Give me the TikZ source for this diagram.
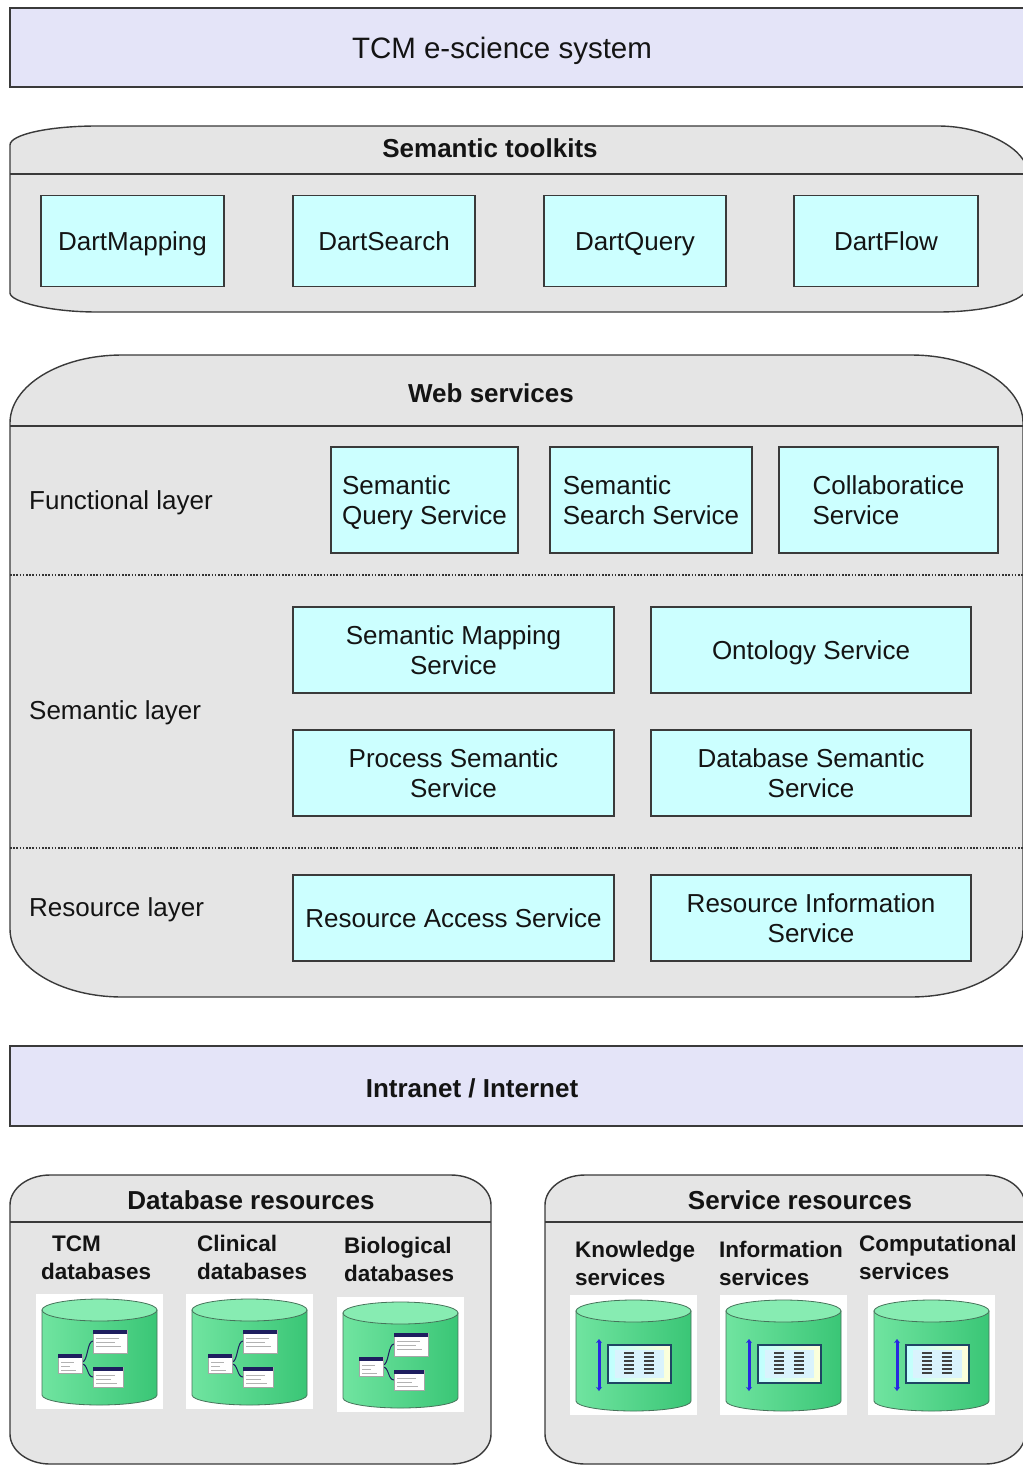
\documentclass[tikz,border=0pt]{standalone}
\usepackage{fontspec}
\setmainfont{Liberation Sans}
\usetikzlibrary{arrows.meta}
\definecolor{lav}{RGB}{228,228,248}
\definecolor{panelgray}{RGB}{229,229,229}
\definecolor{cyanbox}{RGB}{204,255,255}
\definecolor{edgec}{RGB}{58,58,58}
\definecolor{txt}{RGB}{20,20,20}
\definecolor{cylA}{RGB}{112,228,160}
\definecolor{cylB}{RGB}{58,198,118}
\definecolor{cylTop}{RGB}{135,236,178}
\definecolor{cylEdge}{RGB}{70,115,90}
\definecolor{navy}{RGB}{30,30,95}
\definecolor{arrowblue}{RGB}{40,40,225}
\definecolor{winedge}{RGB}{30,70,100}
\tikzset{
  cylinderbody/.pic={
    \fill[white] (0,0) rectangle (127,#1);
    \path[draw=cylEdge, line width=0.8pt, left color=cylA, right color=cylB]
      (6,16) -- (6,#1-14) .. controls (6,#1-8.5) and (31.8,#1-4) .. (63.5,#1-4)
      .. controls (95.2,#1-4) and (121,#1-8.5) .. (121,#1-14) -- (121,16) -- cycle;
    \path[draw=cylEdge, line width=0.8pt, fill=cylTop] (63.5,16) ellipse [x radius=57.5pt, y radius=11pt];
  },
  dbicon/.pic={
    \pic {cylinderbody=115};
    \draw[navy, line width=1pt] (46,68) .. controls (52,68) and (51,47) .. (57,47);
    \draw[navy, line width=1pt] (46,70) .. controls (52,70) and (51,83) .. (57,83);
    \foreach \xa/\ya/\xb/\yb in {57/36/91/59, 22/60/46/79, 57/73/87/93}{
      \fill[white, draw=gray!70, line width=0.5pt] (\xa,\ya) rectangle (\xb,\yb);
      \fill[navy] (\xa,\ya) rectangle (\xb,\ya+4);
      \draw[gray!60, line width=0.8pt] (\xa+3,\ya+8) -- (\xb-8,\ya+8);
      \draw[gray!60, line width=0.8pt] (\xa+3,\ya+12) -- (\xb-12,\ya+12);
      \draw[gray!60, line width=0.8pt] (\xa+3,\ya+16) -- (\xb-6,\ya+16);
    }
  },
  svcicon/.pic={
    \pic {cylinderbody=120};
    \draw[arrowblue, line width=3pt, {Stealth[length=4pt,width=6pt]}-{Stealth[length=4pt,width=6pt]}] (29,44) -- (29,96);
    \path[draw=winedge, line width=2.5pt, left color=cyan!25, right color=yellow!15] (38,50) rectangle (101,88);
    \fill[white!85!cyan] (45,55) rectangle (94,83);
    \foreach \yy in {58,62,66,70,74,78}{
      \draw[black!75, line width=1.8pt] (54,\yy) -- (64,\yy);
      \draw[black!75, line width=1.8pt] (74,\yy) -- (84,\yy);
    }
  }
}
\begin{document}
\begin{tikzpicture}[x=1pt,y=-1pt,
  panel/.style={draw=edgec, line width=1.4pt, fill=panelgray},
  band/.style={draw=edgec, line width=1.4pt, fill=lav},
  sep/.style={draw=edgec, line width=1.4pt},
  dotsep/.style={draw=edgec!90!black, line width=1.1pt, dash pattern=on 1.6pt off 1.6pt},
  struts/.style={execute at begin node={\vphantom{A}}, text depth=0pt},
  box/.style={draw=edgec, line width=1.4pt, fill=cyanbox, inner sep=0pt, align=center,
    font=\fontsize{26}{30}\selectfont, text=txt, struts},
  lbox/.style={box, align=left},
  head/.style={font=\bfseries\fontsize{26}{30}\selectfont, text=txt, inner sep=0pt, struts},
  layer/.style={font=\fontsize{26}{30}\selectfont, text=txt, inner sep=0pt, anchor=west, struts},
  sub/.style={font=\bfseries\fontsize{22.5}{28}\selectfont, text=txt, inner sep=0pt, anchor=west, align=left, struts}
]
\useasboundingbox (0,0) rectangle (1022,1466);

% top band
\path[band] (10,8) rectangle (1035,87);
\node[text=txt, inner sep=0pt, font=\fontsize{29.5}{34}\selectfont, struts] (title) at (502,48) {TCM e-science system};

% Semantic toolkits panel
\path[panel] (97,126) -- (938,126) .. controls (987,126) and (1027,151) .. (1027,171)
  -- (1027,287) .. controls (1027,301) and (987,312) .. (938,312)
  -- (97,312) .. controls (49,312) and (10,301.5) .. (10,293)
  -- (10,145) .. controls (10,134.5) and (49,126) .. (97,126) -- cycle;
\draw[sep] (10,174) -- (1027,174);
\node[head] (stk) at (490,148) {Semantic toolkits};
\node[box, minimum width=183pt, minimum height=91pt] (dm) at (132.5,241) {DartMapping};
\node[box, minimum width=182pt, minimum height=91pt] (ds) at (384,241) {DartSearch};
\node[box, minimum width=182pt, minimum height=91pt] (dq) at (635,241) {DartQuery};
\node[box, minimum width=184pt, minimum height=91pt] (df) at (886,241) {DartFlow};

% Web services panel
\path[panel] (122,355) -- (911,355) .. controls (973,355) and (1023,385.5) .. (1023,423)
  -- (1023,929) .. controls (1023,966.5) and (973,997) .. (911,997)
  -- (122,997) .. controls (60,997) and (10,966.5) .. (10,929)
  -- (10,423) .. controls (10,385.5) and (60,355) .. (122,355) -- cycle;
\draw[sep] (10,426) -- (1023,426);
\draw[dotsep] (10,575) -- (1023,575);
\draw[dotsep] (10,848) -- (1023,848);
\node[head] (ws) at (491,393) {Web services};
\node[layer] (fl) at (29,500) {Functional layer};
\node[layer] (sl) at (29,710) {Semantic layer};
\node[layer] (rl) at (29,907) {Resource layer};

\node[lbox, minimum width=187pt, minimum height=106pt] (sqs) at (424.5,500) {Semantic\\Query Service};
\node[lbox, minimum width=202pt, minimum height=106pt] (sss) at (651,500) {Semantic\\Search Service};
\node[lbox, minimum width=219pt, minimum height=106pt] (cls) at (888.5,500) {Collaboratice\\Service};
\node[box, minimum width=321pt, minimum height=86pt] (sms) at (453.5,650) {Semantic Mapping\\Service};
\node[box, minimum width=320pt, minimum height=86pt] (ons) at (811,650) {Ontology Service};
\node[box, minimum width=321pt, minimum height=86pt] (pss) at (453.5,773) {Process Semantic\\Service};
\node[box, minimum width=320pt, minimum height=86pt] (dss) at (811,773) {Database Semantic\\Service};
\node[box, minimum width=321pt, minimum height=86pt] (ras) at (453.5,918) {Resource Access Service};
\node[box, minimum width=320pt, minimum height=86pt] (ris) at (811,918) {Resource Information\\Service};

% Intranet band
\path[band] (10,1046) rectangle (1035,1126);
\node[head] (net) at (472,1088) {Intranet / Internet};

% Database resources panel
\path[panel] (50,1175) -- (451,1175) .. controls (473,1175) and (491,1188.5) .. (491,1205)
  -- (491,1434) .. controls (491,1450.5) and (473,1464) .. (451,1464)
  -- (50,1464) .. controls (28,1464) and (10,1450.5) .. (10,1434)
  -- (10,1205) .. controls (10,1188.5) and (28,1175) .. (50,1175) -- cycle;
\draw[sep] (10,1222) -- (491,1222);
\node[head] (dbr) at (251,1200) {Database resources};

% Service resources panel
\path[panel] (585,1175) -- (985,1175) .. controls (1007,1175) and (1025,1188.5) .. (1025,1205)
  -- (1025,1434) .. controls (1025,1450.5) and (1007,1464) .. (985,1464)
  -- (585,1464) .. controls (563,1464) and (545,1450.5) .. (545,1434)
  -- (545,1205) .. controls (545,1188.5) and (563,1175) .. (585,1175) -- cycle;
\draw[sep] (545,1222) -- (1025,1222);
\node[head] (svr) at (800,1200) {Service resources};

\node[sub] (tcmdb) at (41,1258) {\hspace*{11pt}TCM\\databases};
\node[sub] (clidb) at (197,1257) {Clinical\\databases};
\node[sub] (biodb) at (344,1259.5) {Biological\\databases};
\node[sub] (knsv) at (575,1263) {Knowledge\\services};
\node[sub] (insv) at (719,1263) {Information\\services};
\node[sub] (cosv) at (859,1257) {Computational\\services};

\pic at (36,1294) {dbicon};
\pic at (186,1294) {dbicon};
\pic at (337,1297) {dbicon};
\pic at (570,1295) {svcicon};
\pic at (720,1295) {svcicon};
\pic at (868,1295) {svcicon};
\end{tikzpicture}
\end{document}
